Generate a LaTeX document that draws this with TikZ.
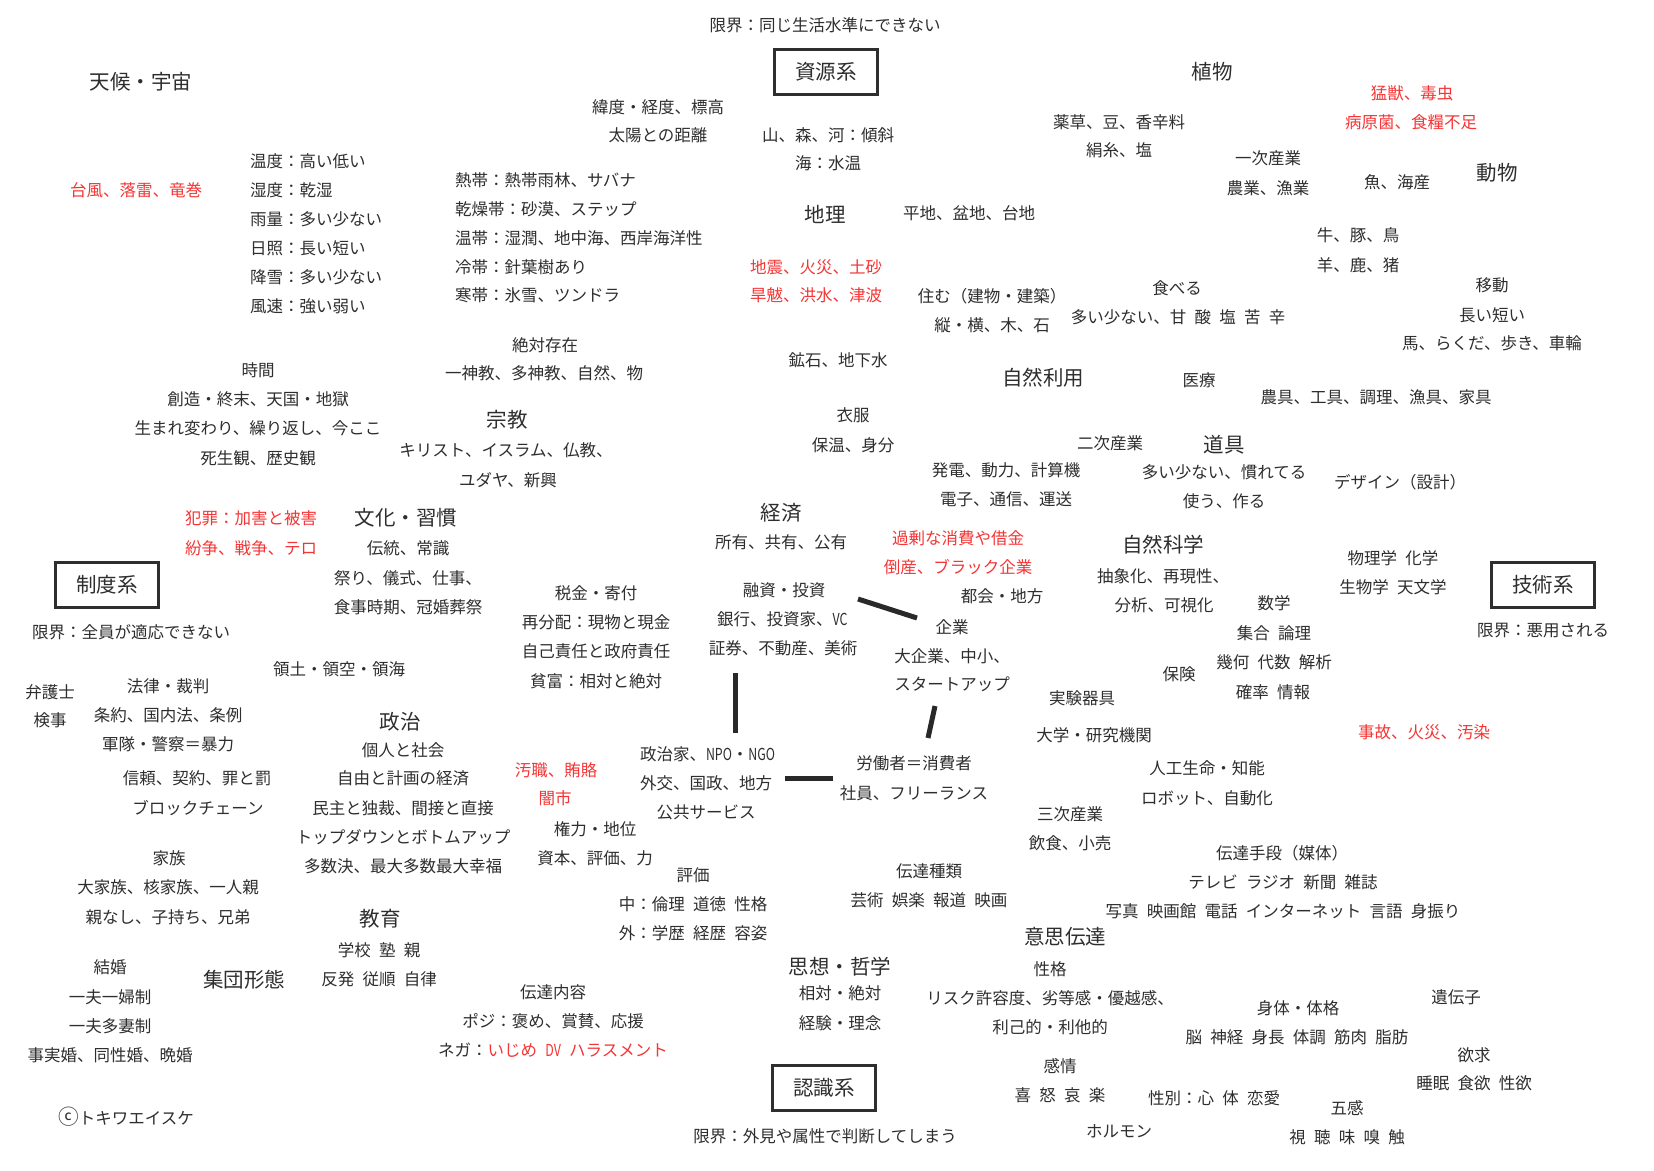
\documentclass[tikz,border=0pt]{standalone}
\usepackage{fontspec}
\usepackage{graphicx}
\setmainfont{Noto Sans CJK JP}
\definecolor{ink}{HTML}{2E2E2E}
\definecolor{alert}{HTML}{F53535}
\newcommand{\jsp}{\hspace{0.5em}}
\newcommand{\narrowlat}[1]{\scalebox{0.75}[1]{#1}}
\tikzset{
  basetext/.style={inner sep=0pt, outer sep=0pt, text=ink},
  txt/.style={basetext, font=\fontsize{16.5}{20}\selectfont, text height=12.2pt, text depth=0pt},
  hd/.style={basetext, font=\fontsize{20.5}{24}\selectfont, text height=15.2pt, text depth=0pt},
  rd/.style={txt, text=alert},
  sysbox/.style={draw=ink, line width=3.5pt, minimum width=103pt, minimum height=45pt,
    font=\fontsize{20.5}{24}\selectfont, text height=15.2pt, text depth=0pt, text=ink, inner sep=0pt},
  bar/.style={line width=5pt, draw=ink!90!black},
}
\begin{document}
\begin{tikzpicture}[x=1pt,y=-1pt]
\fill[white] (0,0) rectangle (1654,1170);
\useasboundingbox (0,0) rectangle (1654,1170);

% ---- system boxes
\node[sysbox] (shigen) at (826,72) {資源系};
\node[sysbox] (seido) at (107,585) {制度系};
\node[sysbox] (gijutsu) at (1543,585) {技術系};
\node[sysbox] (ninshiki) at (824,1088) {認識系};
\node[txt] (lim1) at (825,25) {限界：同じ生活水準にできない};
\node[txt] (lim2) at (131,632) {限界：全員が適応できない};
\node[txt] (lim3) at (1543,630) {限界：悪用される};
\node[txt] (lim4) at (825,1136) {限界：外見や属性で判断してしまう};

% ---- climate
\node[hd] (tenkou) at (141,82) {天候・宇宙};
\node[rd] (typhoon) at (136,190) {台風、落雷、竜巻};
\node[txt,anchor=west] (ondo) at (250,161) {温度：高い低い};
\node[txt,anchor=west] (shitsudo) at (250,190) {湿度：乾湿};
\node[txt,anchor=west] (uryou) at (250,219) {雨量：多い少ない};
\node[txt,anchor=west] (nisshou) at (250,248) {日照：長い短い};
\node[txt,anchor=west] (kousetsu) at (250,277) {降雪：多い少ない};
\node[txt,anchor=west] (fuusoku) at (250,306) {風速：強い弱い};
\node[txt] (ido) at (658,107) {緯度・経度、標高};
\node[txt] (taiyo) at (658,135) {太陽との距離};
\node[txt,anchor=west] (nettai) at (455,180) {熱帯：熱帯雨林、サバナ};
\node[txt,anchor=west] (kansou) at (455,209) {乾燥帯：砂漠、ステップ};
\node[txt,anchor=west] (ontai) at (455,238) {温帯：湿潤、地中海、西岸海洋性};
\node[txt,anchor=west] (reitai) at (455,267) {冷帯：針葉樹あり};
\node[txt,anchor=west] (kantai) at (455,295) {寒帯：氷雪、ツンドラ};

% ---- geography
\node[txt] (yama) at (828,135) {山、森、河：傾斜};
\node[txt] (umi) at (828,163) {海：水温};
\node[hd] (chiri) at (825,215) {地理};
\node[txt] (heichi) at (969,213) {平地、盆地、台地};
\node[rd] (jishin) at (816,267) {地震、火災、土砂};
\node[rd] (kanbatsu) at (816,295) {旱魃、洪水、津波};
\node[txt] (sumu) at (992,296) {住む（建物・建築）};
\node[txt] (tate) at (992,325) {縦・横、木、石};
\node[txt] (taberu) at (1177,288) {食べる};
\node[txt] (aji) at (1178,317) {多い少ない、甘\jsp 酸\jsp 塩\jsp 苦\jsp 辛};
\node[txt] (kouseki) at (838,360) {鉱石、地下水};
\node[hd] (shizenriyou) at (1043,378) {自然利用};
\node[txt] (iryou) at (1199,380) {医療};

% ---- plants / animals
\node[hd] (shokubutsu) at (1212,72) {植物};
\node[txt] (yakusou) at (1119,122) {薬草、豆、香辛料};
\node[txt] (kenshi) at (1119,150) {絹糸、塩};
\node[rd] (mouju) at (1412,93) {猛獣、毒虫};
\node[rd] (byougen) at (1411,122) {病原菌、食糧不足};
\node[txt] (ichiji) at (1268,158) {一次産業};
\node[txt] (nougyou) at (1268,188) {農業、漁業};
\node[txt] (sakana) at (1397,182) {魚、海産};
\node[hd] (doubutsu) at (1497,173) {動物};
\node[txt] (ushi) at (1358,235) {牛、豚、鳥};
\node[txt] (hitsuji) at (1358,265) {羊、鹿、猪};
\node[txt] (idou) at (1492,285) {移動};
\node[txt] (nagai) at (1492,315) {長い短い};
\node[txt] (uma) at (1492,343) {馬、らくだ、歩き、車輪};
\node[txt] (nougu) at (1376,397) {農具、工具、調理、漁具、家具};

% ---- religion / time
\node[txt] (zettai) at (545,345) {絶対存在};
\node[txt] (isshin) at (544,373) {一神教、多神教、自然、物};
\node[txt] (jikan) at (258,370) {時間};
\node[txt] (souzou) at (258,399) {創造・終末、天国・地獄};
\node[txt] (umare) at (258,428) {生まれ変わり、繰り返し、今ここ};
\node[txt] (shisei) at (258,458) {死生観、歴史観};
\node[hd] (shuukyou) at (507,420) {宗教};
\node[txt] (kirisuto) at (506,450) {キリスト、イスラム、仏教、};
\node[txt] (yudaya) at (508,480) {ユダヤ、新興};

% ---- clothing / industry / tools
\node[txt] (ifuku) at (853,415) {衣服};
\node[txt] (hoon) at (853,445) {保温、身分};
\node[txt] (niji) at (1110,443) {二次産業};
\node[hd] (dougu) at (1224,445) {道具};
\node[txt] (hatsuden) at (1006,470) {発電、動力、計算機};
\node[txt] (denshi) at (1006,499) {電子、通信、運送};
\node[txt] (ooi) at (1224,472) {多い少ない、慣れてる};
\node[txt] (tsukau) at (1224,501) {使う、作る};
\node[txt] (design) at (1400,482) {デザイン（設計）};

% ---- economy
\node[hd] (keizai) at (781,513) {経済};
\node[txt] (shoyuu) at (781,542) {所有、共有、公有};
\node[rd] (kajou) at (958,538) {過剰な消費や借金};
\node[rd] (tousan) at (958,567) {倒産、ブラック企業};
\node[txt] (zeikin) at (596,593) {税金・寄付};
\node[txt] (saibunpai) at (596,622) {再分配：現物と現金};
\node[txt] (jiko) at (596,651) {自己責任と政府責任};
\node[txt] (hinpu) at (596,681) {貧富：相対と絶対};
\node[txt] (yuushi) at (784,590) {融資・投資};
\node[txt,anchor=west] (ginkou) at (717,619) {銀行、投資家、\narrowlat{VC}};
\node[txt] (shouken) at (783,648) {証券、不動産、美術};
\node[txt] (tokai) at (1002,596) {都会・地方};
\node[txt] (kigyou) at (952,627) {企業};
\node[txt] (daikigyou) at (952,656) {大企業、中小、};
\node[txt] (startup) at (952,684) {スタートアップ};
\node[txt,anchor=west] (seijika) at (640,754) {政治家、\narrowlat{NPO}・\narrowlat{NGO}};
\node[txt,anchor=west] (gaikou) at (640,783) {外交、国政、地方};
\node[txt] (koukyou) at (706,812) {公共サービス};
\node[txt] (roudousha) at (914,763) {労働者＝消費者};
\node[txt] (shain) at (914,793) {社員、フリーランス};
\node[rd] (oshoku) at (556,770) {汚職、賄賂};
\node[rd] (yamiichi) at (555,798) {闇市};
\node[txt] (kenryoku) at (595,829) {権力・地位};
\node[txt] (shihon) at (595,858) {資本、評価、力};

% ---- culture / crime
\node[rd] (hanzai) at (251,518) {犯罪：加害と被害};
\node[rd] (funsou) at (251,548) {紛争、戦争、テロ};
\node[hd] (bunka) at (406,518) {文化・習慣};
\node[txt] (dentou) at (408,548) {伝統、常識};
\node[txt] (matsuri) at (408,578) {祭り、儀式、仕事、};
\node[txt] (shokuji) at (408,607) {食事時期、冠婚葬祭};

% ---- law / politics
\node[txt] (ryoudo) at (339,669) {領土・領空・領海};
\node[txt] (bengoshi) at (50,692) {弁護士};
\node[txt] (kenji) at (50,720) {検事};
\node[txt] (houritsu) at (168,686) {法律・裁判};
\node[txt] (jouyaku) at (168,715) {条約、国内法、条例};
\node[txt] (guntai) at (168,744) {軍隊・警察＝暴力};
\node[txt] (shinrai) at (197,778) {信頼、契約、罪と罰};
\node[txt] (blockchain) at (198,808) {ブロックチェーン};
\node[hd] (seiji) at (400,722) {政治};
\node[txt] (kojin) at (403,750) {個人と社会};
\node[txt] (jiyuu) at (403,778) {自由と計画の経済};
\node[txt] (minshu) at (403,808) {民主と独裁、間接と直接};
\node[txt] (topdown) at (403,837) {トップダウンとボトムアップ};
\node[txt] (tasuu) at (403,866) {多数決、最大多数最大幸福};

% ---- science
\node[hd] (shizenkagaku) at (1163,545) {自然科学};
\node[txt] (chuushou) at (1163,576) {抽象化、再現性、};
\node[txt] (bunseki) at (1164,605) {分析、可視化};
\node[txt] (butsuri) at (1393,558) {物理学\jsp 化学};
\node[txt] (seibutsu) at (1393,587) {生物学\jsp 天文学};
\node[txt] (suugaku) at (1274,603) {数学};
\node[txt] (shuugou) at (1274,633) {集合\jsp 論理};
\node[txt] (kika) at (1274,662) {幾何\jsp 代数\jsp 解析};
\node[txt] (kakuritsu) at (1273,692) {確率\jsp 情報};
\node[txt] (hoken) at (1179,674) {保険};
\node[txt] (jikken) at (1082,698) {実験器具};
\node[txt] (daigaku) at (1094,735) {大学・研究機関};
\node[rd] (jiko2) at (1424,732) {事故、火災、汚染};
\node[txt] (jinkou) at (1207,768) {人工生命・知能};
\node[txt] (robot) at (1207,798) {ロボット、自動化};
\node[txt] (sanji) at (1070,814) {三次産業};
\node[txt] (inshoku) at (1070,843) {飲食、小売};

% ---- communication
\node[txt] (shudan) at (1282,853) {伝達手段（媒体）};
\node[txt] (tv) at (1283,882) {テレビ\jsp ラジオ\jsp 新聞\jsp 雑誌};
\node[txt] (shashin) at (1283,911) {写真\jsp 映画館\jsp 電話\jsp インターネット\jsp 言語\jsp 身振り};
\node[txt] (shurui) at (929,871) {伝達種類};
\node[txt] (geijutsu) at (929,900) {芸術\jsp 娯楽\jsp 報道\jsp 映画};
\node[hd] (ishi) at (1065,937) {意思伝達};
\node[txt] (hyouka) at (693,875) {評価};
\node[txt] (naka) at (693,904) {中：倫理\jsp 道徳\jsp 性格};
\node[txt] (soto) at (693,933) {外：学歴\jsp 経歴\jsp 容姿};
\node[txt] (naiyou) at (553,992) {伝達内容};
\node[txt] (posi) at (553,1021) {ポジ：褒め、賞賛、応援};
\node[txt] (nega) at (553,1050) {ネガ：\textcolor{alert}{いじめ\jsp \narrowlat{DV}\jsp ハラスメント}};

% ---- family / education
\node[txt] (kazoku) at (169,858) {家族};
\node[txt] (daikazoku) at (168,887) {大家族、核家族、一人親};
\node[txt] (oyanashi) at (168,917) {親なし、子持ち、兄弟};
\node[hd] (kyouiku) at (380,919) {教育};
\node[txt] (gakkou) at (379,950) {学校\jsp 塾\jsp 親};
\node[txt] (hanpatsu) at (379,979) {反発\jsp 従順\jsp 自律};
\node[txt] (kekkon) at (110,967) {結婚};
\node[hd] (shuudan) at (244,980) {集団形態};
\node[txt] (ippu1) at (110,997) {一夫一婦制};
\node[txt] (ippu2) at (110,1026) {一夫多妻制};
\node[txt] (jijitsu) at (110,1055) {事実婚、同性婚、晩婚};
\node[txt] (copyright) at (126,1118) {\scalebox{1.25}{ⓒ}トキワエイスケ};

% ---- thought / person
\node[hd] (shisou) at (840,967) {思想・哲学};
\node[txt] (soutai) at (840,993) {相対・絶対};
\node[txt] (keiken) at (840,1023) {経験・理念};
\node[txt] (seikaku) at (1050,969) {性格};
\node[txt] (risk) at (1050,998) {リスク許容度、劣等感・優越感、};
\node[txt] (riko) at (1050,1027) {利己的・利他的};
\node[txt] (kanjou) at (1060,1066) {感情};
\node[txt] (kidoairaku) at (1060,1095) {喜\jsp 怒\jsp 哀\jsp 楽};
\node[txt] (hormone) at (1119,1131) {ホルモン};
\node[txt] (seibetsu) at (1214,1098) {性別：心\jsp 体\jsp 恋愛};
\node[txt] (shintai) at (1298,1008) {身体・体格};
\node[txt] (nou) at (1297,1037) {脳\jsp 神経\jsp 身長\jsp 体調\jsp 筋肉\jsp 脂肪};
\node[txt] (idenshi) at (1456,997) {遺伝子};
\node[txt] (yokkyuu) at (1474,1055) {欲求};
\node[txt] (suimin) at (1474,1083) {睡眠\jsp 食欲\jsp 性欲};
\node[txt] (gokan) at (1347,1108) {五感};
\node[txt] (shichou) at (1347,1137) {視\jsp 聴\jsp 味\jsp 嗅\jsp 触};

% ---- bars
\coordinate (b1a) at (735,673); \coordinate (b1b) at (735,733);
\coordinate (b2a) at (785,778); \coordinate (b2b) at (833,778);
\coordinate (b3a) at (858,599); \coordinate (b3b) at (917,618);
\coordinate (b4a) at (935,706); \coordinate (b4b) at (928,738);
\draw[bar] (b1a) -- (b1b);
\draw[bar] (b2a) -- (b2b);
\draw[bar] (b3a) -- (b3b);
\draw[bar] (b4a) -- (b4b);
\end{tikzpicture}
\end{document}
